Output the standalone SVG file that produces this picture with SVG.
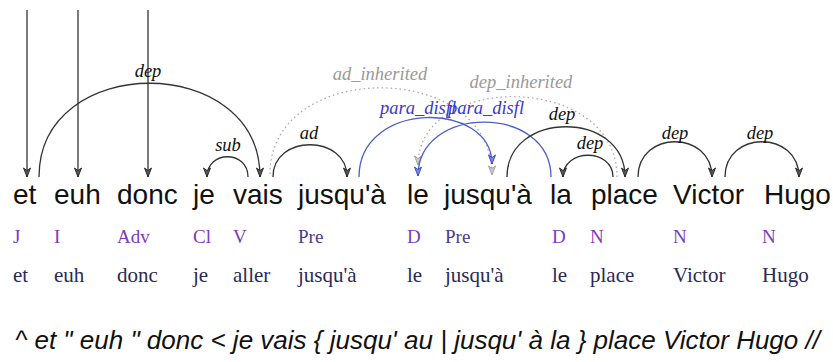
<svg xmlns="http://www.w3.org/2000/svg" width="833" height="362" viewBox="0 0 833 362">
<defs>
<style>
.w{font-family:"Liberation Sans",Arial,sans-serif;font-size:28px;fill:#111}
.p{font-family:"Liberation Serif","Times New Roman",serif;font-size:19px;fill:#7a3db8}
.pp{fill:#4b3c8c}
.l{font-family:"Liberation Serif","Times New Roman",serif;font-size:21px;fill:#2a2a55}
.lb{font-family:"Liberation Serif","Times New Roman",serif;font-style:italic;font-size:18.5px;text-anchor:middle}
.k{fill:#111}
.g{fill:#9a9a9a}
.b{fill:#3a3acb}
.ak{fill:none;stroke:#333;stroke-width:1.3;marker-end:url(#mk)}
.ag{fill:none;stroke:#aaa;stroke-width:1.3;stroke-dasharray:1.5 3;marker-end:url(#mg)}
.ab{fill:none;stroke:#4a5fc8;stroke-width:1.3;marker-end:url(#mb)}
.s{font-family:"Liberation Sans",Arial,sans-serif;font-style:italic;font-size:26px;fill:#111}
</style>
<marker id="mk" viewBox="-1 -5 11 10" refX="9" refY="0" markerWidth="11" markerHeight="10" markerUnits="userSpaceOnUse" orient="auto"><path d="M0,-3.5 L9,0 L0,3.5 L2.5,0 Z" fill="#555" stroke="#222" stroke-width="0.9"/></marker>
<marker id="mg" viewBox="-1 -5 11 10" refX="9" refY="0" markerWidth="11" markerHeight="10" markerUnits="userSpaceOnUse" orient="auto"><path d="M0,-3.5 L9,0 L0,3.5 L2.5,0 Z" fill="#ccc" stroke="#999" stroke-width="0.9"/></marker>
<marker id="mb" viewBox="-1 -5 11 10" refX="9" refY="0" markerWidth="11" markerHeight="10" markerUnits="userSpaceOnUse" orient="auto"><path d="M0,-3.5 L9,0 L0,3.5 L2.5,0 Z" fill="#7a8ae0" stroke="#3344bb" stroke-width="0.9"/></marker>
</defs>
<rect width="833" height="362" fill="#fff"/>

<g id="connectors">
<path class="ak" d="M27,10 L27,177"/>
<path class="ak" d="M78,10 L78,177"/>
<path class="ak" d="M148,10 L148,177"/>
<path class="ak" d="M39,177 C39,52 260,52 260,177"/>
<path class="ak" d="M248,177 C248,150 207,150 207,177"/>
<path class="ak" d="M273,177 C273,134 347,134 347,177"/>
<path class="ag" d="M270,174 C270,59 492,59 492,175"/>
<path class="ag" d="M617,177 C617,72 418,72 418,165"/>
<path class="ab" d="M359,177 C359,100 492,100 492,164"/>
<path class="ab" d="M551,177 C551,104 418,104 418,176"/>
<path class="ak" d="M507,177 C507,110 625,110 625,177"/>
<path class="ak" d="M613,177 C613,148 563,148 563,177"/>
<path class="ak" d="M638,177 C638,130 712,130 712,177"/>
<path class="ak" d="M725,177 C725,130 799,130 799,177"/>
<text class="lb k" x="148" y="77">dep</text>
<text class="lb k" x="228" y="151">sub</text>
<text class="lb k" x="309" y="139">ad</text>
<text class="lb g" x="380" y="80">ad_inherited</text>
<text class="lb g" x="521" y="88">dep_inherited</text>
<text class="lb b" x="418" y="114">para_disfl</text>
<text class="lb b" x="486" y="114">para_disfl</text>
<text class="lb k" x="562" y="120">dep</text>
<text class="lb k" x="590" y="149">dep</text>
<text class="lb k" x="675" y="139">dep</text>
<text class="lb k" x="760" y="139">dep</text>
</g>

<g id="w1"><text class="w" x="13" y="204">et</text><text class="p" x="13" y="243">J</text><text class="l" x="13" y="282">et</text></g>
<g id="w2"><text class="w" x="54" y="204">euh</text><text class="p" x="54" y="243">I</text><text class="l" x="54" y="282">euh</text></g>
<g id="w3"><text class="w" x="117" y="204">donc</text><text class="p" x="117" y="243">Adv</text><text class="l" x="117" y="282">donc</text></g>
<g id="w4"><text class="w" x="193" y="204">je</text><text class="p" x="193" y="243">Cl</text><text class="l" x="193" y="282">je</text></g>
<g id="w5"><text class="w" x="233" y="204">vais</text><text class="p" x="233" y="243">V</text><text class="l" x="233" y="282">aller</text></g>
<g id="w6"><text class="w" x="298" y="204">jusqu'à</text><text class="p pp" x="298" y="243">Pre</text><text class="l" x="298" y="282">jusqu'à</text></g>
<g id="w7"><text class="w" x="407" y="204">le</text><text class="p" x="407" y="243">D</text><text class="l" x="407" y="282">le</text></g>
<g id="w8"><text class="w" x="444" y="204">jusqu'à</text><text class="p pp" x="445" y="243">Pre</text><text class="l" x="445" y="282">jusqu'à</text></g>
<g id="w9"><text class="w" x="550" y="204">la</text><text class="p" x="552" y="243">D</text><text class="l" x="552" y="282">le</text></g>
<g id="w10"><text class="w" x="591" y="204">place</text><text class="p" x="590" y="243">N</text><text class="l" x="590" y="282">place</text></g>
<g id="w11"><text class="w" x="673" y="204">Victor</text><text class="p" x="673" y="243">N</text><text class="l" x="673" y="282">Victor</text></g>
<g id="w12"><text class="w" x="764" y="204">Hugo</text><text class="p" x="762" y="243">N</text><text class="l" x="762" y="282">Hugo</text></g>

<text class="s" x="15" y="349">^ et " euh " donc &lt; je vais { jusqu' au | jusqu' à la } place Victor Hugo //</text>
</svg>
